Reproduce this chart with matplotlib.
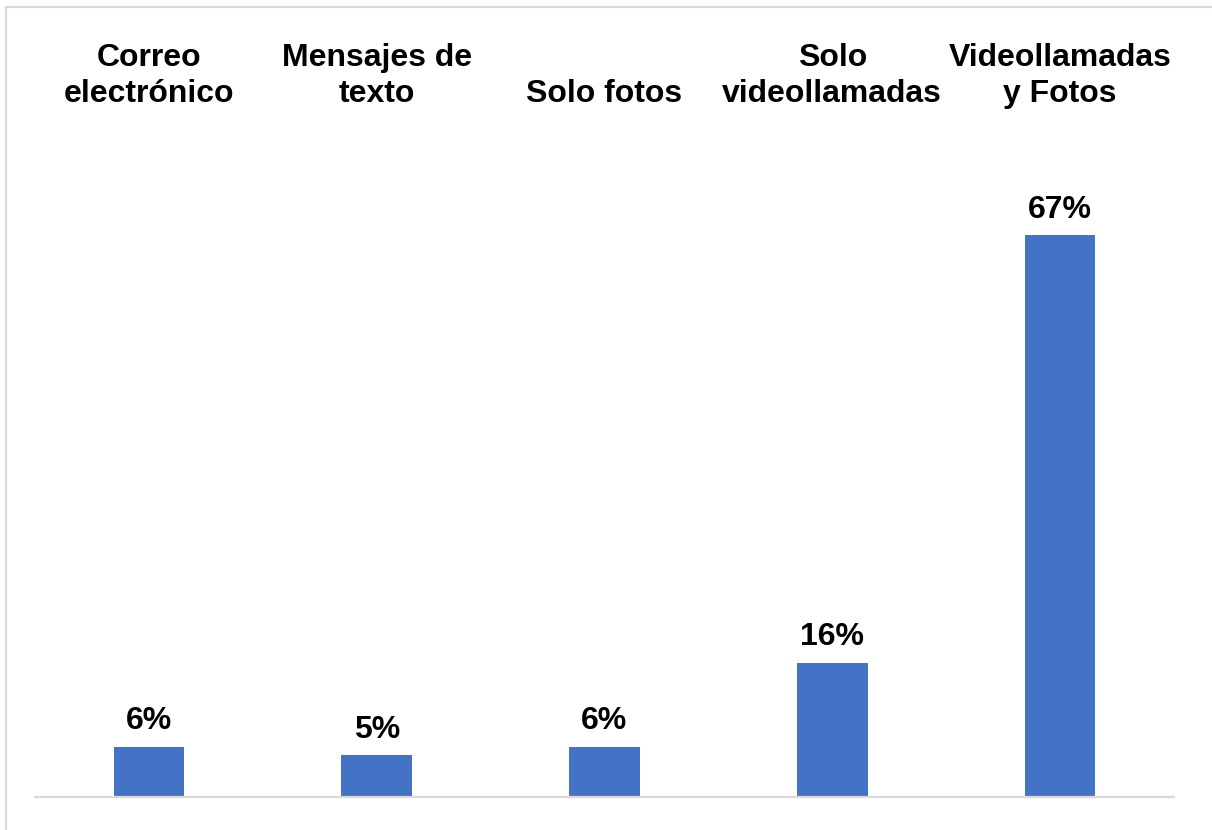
import matplotlib
matplotlib.use('Agg')
from matplotlib import pyplot as plt
from matplotlib.patches import Rectangle
from matplotlib.transforms import blended_transform_factory

categories = ['Correo\nelectrónico', 'Mensajes de\ntexto', 'Solo fotos',
              'Solo\nvideollamadas', 'Videollamadas\ny Fotos']
values = [6, 5, 6, 16, 67]
value_labels = ['6%', '5%', '6%', '16%', '67%']

plt.rcParams['font.family'] = ['Liberation Sans', 'DejaVu Sans']

W, H = 1212, 830
fig = plt.figure(figsize=(W / 100, H / 100), dpi=100)
ax = fig.add_axes([35 / W, 33 / H, 1139 / W, 777 / H])

x = list(range(len(categories)))
ax.bar(x, values, width=0.31, color='#4472C4', zorder=2)

ax.set_xlim(-0.5, len(categories) - 0.5)
ax.set_ylim(0, 777 / 8.39)

# value labels over the bars
for xi, v, lab in zip(x, values, value_labels):
    ax.annotate(lab, (xi, v), xytext=(0, 12.5), textcoords='offset points',
                ha='center', va='baseline', fontsize=23, fontweight='bold')

# category names along the top
tr = blended_transform_factory(ax.transData, fig.transFigure)
for xi, name in zip(x, categories):
    ax.text(xi, 1 - 109 / H, name, transform=tr, ha='center', va='bottom',
            fontsize=23, fontweight='bold', linespacing=1.25)

for s in ['top', 'right', 'left']:
    ax.spines[s].set_visible(False)
ax.spines['bottom'].set_color('#d9d9d9')
ax.spines['bottom'].set_linewidth(1.6)
ax.set_xticks([])
ax.set_yticks([])

# chart frame
fig.add_artist(Rectangle((6 / W, -0.1), 1.2, 1.1 - 7 / H, transform=fig.transFigure,
                         fill=False, edgecolor='#d9d9d9', linewidth=1.6))

fig.savefig('out.png', dpi=100)
